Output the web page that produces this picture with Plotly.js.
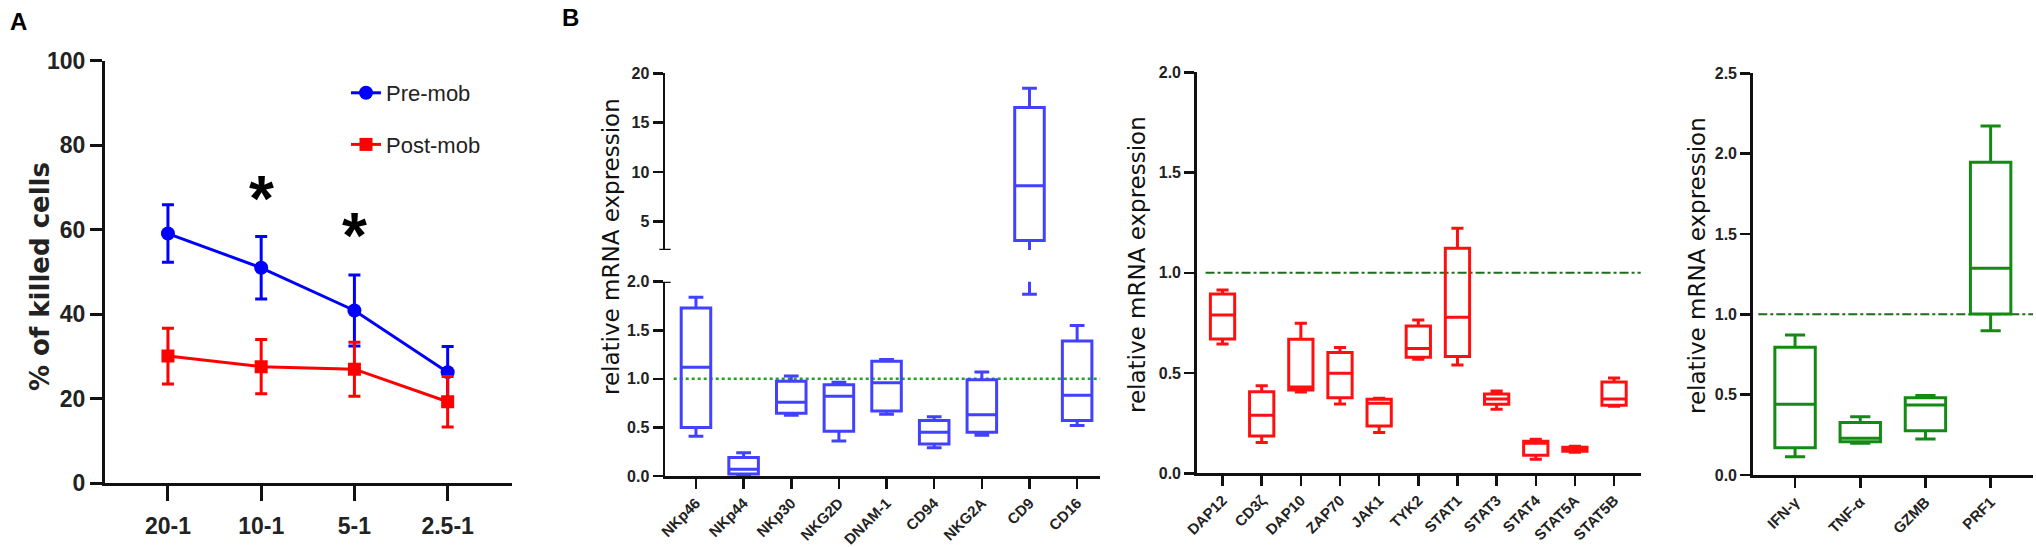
<!DOCTYPE html>
<html>
<head>
<meta charset="utf-8">
<script src="https://cdn.plot.ly/plotly-3.0.1.min.js"></script>
<style>
  html, body { margin: 0; padding: 0; background: #fff; }
  #chart { width: 2036px; height: 547px; }
</style>
</head>
<body>
<div id="chart"></div>
<script>
// panel A: killing assay
const ratios = ['20-1', '10-1', '5-1', '2.5-1'];
const preMob = [59.1, 51.0, 40.9, 26.3];
const preErr = [6.8, 7.4, 8.4, 6.1];
const postMob = [30.1, 27.6, 27.0, 19.3];
const postErr = [6.6, 6.4, 6.4, 6.0];
const starRatios = ['10-1', '5-1'];
const starLevels = [69.4, 60.7];

// panel B: receptors (blue)
const receptors = ['NKp46', 'NKp44', 'NKp30', 'NKG2D', 'DNAM-1', 'CD94', 'NKG2A', 'CD9', 'CD16'];
const recMin = [0.41, 0.01, 0.625, 0.36, 0.636, 0.29, 0.42, 1.87, 0.52];
const recQ1  = [0.50, 0.02, 0.645, 0.46, 0.67, 0.33, 0.45, 3.08, 0.57];
const recMed = [1.12, 0.07, 0.76, 0.82, 0.96, 0.45, 0.63, 8.64, 0.83];
const recQ3  = [1.73, 0.19, 0.975, 0.94, 1.18, 0.57, 0.99, 16.53, 1.39];
const recMax = [1.84, 0.24, 1.03, 0.965, 1.20, 0.61, 1.07, 18.49, 1.55];

// panel B: signalling (red)
const signals = ['DAP12', 'CD3ζ', 'DAP10', 'ZAP70', 'JAK1', 'TYK2', 'STAT1', 'STAT3', 'STAT4', 'STAT5A', 'STAT5B'];
const sigMin = [0.645, 0.153, 0.405, 0.346, 0.203, 0.569, 0.54, 0.32, 0.07, 0.105, 0.335];
const sigQ1  = [0.67, 0.186, 0.415, 0.377, 0.236, 0.579, 0.582, 0.345, 0.09, 0.11, 0.34];
const sigMed = [0.79, 0.29, 0.43, 0.499, 0.349, 0.623, 0.778, 0.37, 0.15, 0.12, 0.37];
const sigQ3  = [0.894, 0.407, 0.668, 0.602, 0.369, 0.735, 1.122, 0.395, 0.16, 0.13, 0.455];
const sigMax = [0.914, 0.437, 0.748, 0.628, 0.374, 0.765, 1.222, 0.41, 0.17, 0.135, 0.475];

// panel B: effectors (green)
const effectors = ['IFN-γ', 'TNF-α', 'GZMB', 'PRF1'];
const effMin = [0.114, 0.197, 0.224, 0.898];
const effQ1  = [0.17, 0.207, 0.276, 1.002];
const effMed = [0.44, 0.228, 0.436, 1.286];
const effQ3  = [0.795, 0.326, 0.481, 1.946];
const effMax = [0.871, 0.363, 0.494, 2.172];

const baseline = 1;   // relative expression of control
const breakLow = 2;   // top of lower segment
const breakHigh = 2.13; // bottom of upper segment

// pixel -> paper helpers (margins are zero)
const W = 2036, H = 547;
const fx = p => p / W;
const fy = p => 1 - p / H;

const sans = 'Liberation Sans, Arial, sans-serif';
const BLUE_BOX = '#4141ff', RED_BOX = '#ff1010', GREEN_BOX = '#138a13';

const boxTrace = (cats, lo, q1, med, q3, hi, color, xa, ya) => ({
  type: 'box', x: cats, lowerfence: lo, q1: q1, median: med, q3: q3, upperfence: hi,
  xaxis: xa, yaxis: ya, width: 0.62, whiskerwidth: 0.5,
  line: { color: color, width: 3 }, fillcolor: 'rgba(0,0,0,0)',
  hoverinfo: 'skip', showlegend: false
});

const data = [
  {
    x: ratios, y: preMob, name: 'Pre-mob', legendgroup: 'pre',
    mode: 'lines+markers', xaxis: 'x', yaxis: 'y',
    line: { color: '#0000ff', width: 3 },
    marker: { symbol: 'circle', size: 14, color: '#0000ff' },
    error_y: { type: 'data', array: preErr, color: '#0000ff', thickness: 3, width: 6 }
  },
  {
    x: ratios, y: postMob, name: 'Post-mob', legendgroup: 'post',
    mode: 'lines+markers', xaxis: 'x', yaxis: 'y',
    line: { color: '#ff0000', width: 3 },
    marker: { symbol: 'square', size: 13, color: '#ff0000' },
    error_y: { type: 'data', array: postErr, color: '#ff0000', thickness: 3, width: 6 }
  },
  boxTrace(receptors, recMin, recQ1, recMed, recQ3, recMax, BLUE_BOX, 'x2', 'y2'),
  boxTrace(receptors, recMin, recQ1, recMed, recQ3, recMax, BLUE_BOX, 'x2', 'y3'),
  boxTrace(signals, sigMin, sigQ1, sigMed, sigQ3, sigMax, RED_BOX, 'x3', 'y4'),
  boxTrace(effectors, effMin, effQ1, effMed, effQ3, effMax, GREEN_BOX, 'x4', 'y5')
];

const axBase = {
  showline: true, linecolor: '#111', showgrid: false, zeroline: false,
  ticks: 'outside', tickcolor: '#111', fixedrange: true
};
const aTick = { family: sans, size: 23, color: '#222', weight: 'bold' };
const bTick = { family: sans, size: 16, color: '#222', weight: 'bold' };
const bTickX = { family: sans, size: 15, color: '#222', weight: 'bold' };

const layout = {
  width: W, height: H,
  margin: { l: 0, r: 0, t: 0, b: 0 },
  paper_bgcolor: '#fff', plot_bgcolor: 'rgba(0,0,0,0)',
  showlegend: true,
  legend: {
    x: fx(346), y: fy(72), xanchor: 'left', yanchor: 'top',
    font: { family: sans, size: 22, color: '#222' },
    traceorder: 'grouped', tracegroupgap: 20, bgcolor: 'rgba(0,0,0,0)'
  },
  xaxis: Object.assign({}, axBase, {
    domain: [fx(105), fx(512)], anchor: 'y', type: 'category',
    categoryorder: 'array', categoryarray: ratios, range: [-0.675, 3.69],
    linewidth: 3, tickwidth: 3, ticklen: 15, ticklabelstandoff: 5, tickfont: aTick
  }),
  yaxis: Object.assign({}, axBase, {
    domain: [fy(483.3), fy(60.7)], anchor: 'x', range: [0, 100], dtick: 20,
    linewidth: 3, tickwidth: 3, ticklen: 12, ticklabelstandoff: 0, tickfont: aTick
  }),
  xaxis2: Object.assign({}, axBase, {
    domain: [fx(665), fx(1100)], anchor: 'y2', type: 'category',
    categoryorder: 'array', categoryarray: receptors, range: [-0.65, 8.48],
    linewidth: 2.5, tickwidth: 2.5, ticklen: 10, tickangle: -45, tickfont: bTickX
  }),
  yaxis2: Object.assign({}, axBase, {
    domain: [fy(476), fy(281.7)], anchor: 'x2', range: [0, breakLow], dtick: 0.5,
    tickformat: '.1f', linewidth: 2.5, tickwidth: 2.5, ticklen: 10, tickfont: bTick
  }),
  yaxis3: Object.assign({}, axBase, {
    domain: [fy(250), fy(73.3)], anchor: 'x2', range: [breakHigh, 20],
    tickvals: [5, 10, 15, 20], linewidth: 2.5, tickwidth: 2.5, ticklen: 10, tickfont: bTick
  }),
  xaxis3: Object.assign({}, axBase, {
    domain: [fx(1196.7), fx(1640.7)], anchor: 'y4', type: 'category',
    categoryorder: 'array', categoryarray: signals, range: [-0.66, 10.68],
    linewidth: 2.5, tickwidth: 2.5, ticklen: 10, tickangle: -45, tickfont: bTickX
  }),
  yaxis4: Object.assign({}, axBase, {
    domain: [fy(473.3), fy(72.3)], anchor: 'x3', range: [0, 2], dtick: 0.5,
    tickformat: '.1f', linewidth: 2.5, tickwidth: 2.5, ticklen: 10, tickfont: bTick
  }),
  xaxis4: Object.assign({}, axBase, {
    domain: [fx(1752.7), fx(2033)], anchor: 'y5', type: 'category',
    categoryorder: 'array', categoryarray: effectors, range: [-0.65, 3.65],
    linewidth: 2.5, tickwidth: 2.5, ticklen: 10, tickangle: -45, tickfont: bTickX
  }),
  yaxis5: Object.assign({}, axBase, {
    domain: [fy(475), fy(73.3)], anchor: 'x4', range: [0, 2.5], dtick: 0.5,
    tickformat: '.1f', linewidth: 2.5, tickwidth: 2.5, ticklen: 10, tickfont: bTick
  }),
  shapes: [
    { type: 'line', xref: 'x2 domain', x0: 0.02, x1: 1, yref: 'y2', y0: baseline, y1: baseline,
      line: { color: '#22a322', width: 2.5, dash: 'dot' }, layer: 'below' },
    { type: 'line', xref: 'x3 domain', x0: 0.02, x1: 1, yref: 'y4', y0: baseline, y1: baseline,
      line: { color: '#1b6e1b', width: 2, dash: 'dashdot' }, layer: 'below' },
    { type: 'line', xref: 'x4 domain', x0: 0.02, x1: 1, yref: 'y5', y0: baseline, y1: baseline,
      line: { color: '#1b6e1b', width: 2, dash: 'dashdot' }, layer: 'below' },
    // axis break caps
    { type: 'line', xref: 'x2 domain', x0: -0.013, x1: 0.013, yref: 'y2', y0: breakLow, y1: breakLow,
      line: { color: '#111', width: 2.5 } },
    { type: 'line', xref: 'x2 domain', x0: -0.013, x1: 0.013, yref: 'y3', y0: breakHigh, y1: breakHigh,
      line: { color: '#111', width: 2.5 } }
  ],
  annotations: [
    { text: 'A', xref: 'paper', yref: 'paper', x: fx(8), y: fy(6), xanchor: 'left', yanchor: 'top',
      showarrow: false, font: { family: sans, size: 24, color: '#000', weight: 'bold' } },
    { text: 'B', xref: 'paper', yref: 'paper', x: fx(560), y: fy(2), xanchor: 'left', yanchor: 'top',
      showarrow: false, font: { family: sans, size: 24, color: '#000', weight: 'bold' } },
    { text: '% of killed cells', xref: 'paper', yref: 'paper', x: fx(40), y: fy(277), textangle: -90,
      xanchor: 'center', yanchor: 'middle', showarrow: false,
      font: { family: 'DejaVu Sans, sans-serif', size: 26, color: '#222', weight: 'bold' } },
    { text: 'relative mRNA expression', xref: 'paper', yref: 'paper', x: fx(611), y: fy(247), textangle: -90,
      xanchor: 'center', yanchor: 'middle', showarrow: false,
      font: { family: 'DejaVu Sans, sans-serif', size: 23, color: '#111' } },
    { text: 'relative mRNA expression', xref: 'paper', yref: 'paper', x: fx(1137), y: fy(265), textangle: -90,
      xanchor: 'center', yanchor: 'middle', showarrow: false,
      font: { family: 'DejaVu Sans, sans-serif', size: 23, color: '#111' } },
    { text: 'relative mRNA expression', xref: 'paper', yref: 'paper', x: fx(1697), y: fy(266), textangle: -90,
      xanchor: 'center', yanchor: 'middle', showarrow: false,
      font: { family: 'DejaVu Sans, sans-serif', size: 23, color: '#111' } }
  ].concat(starRatios.map((r, i) => ({
    text: '*', xref: 'x', yref: 'y', x: r, y: starLevels[i], xanchor: 'center', yanchor: 'middle',
    yshift: -9, showarrow: false, font: { family: sans, size: 64, color: '#000', weight: 'bold' }
  })))
};

Plotly.newPlot('chart', data, layout, { staticPlot: true, displayModeBar: false });
</script>
</body>
</html>
